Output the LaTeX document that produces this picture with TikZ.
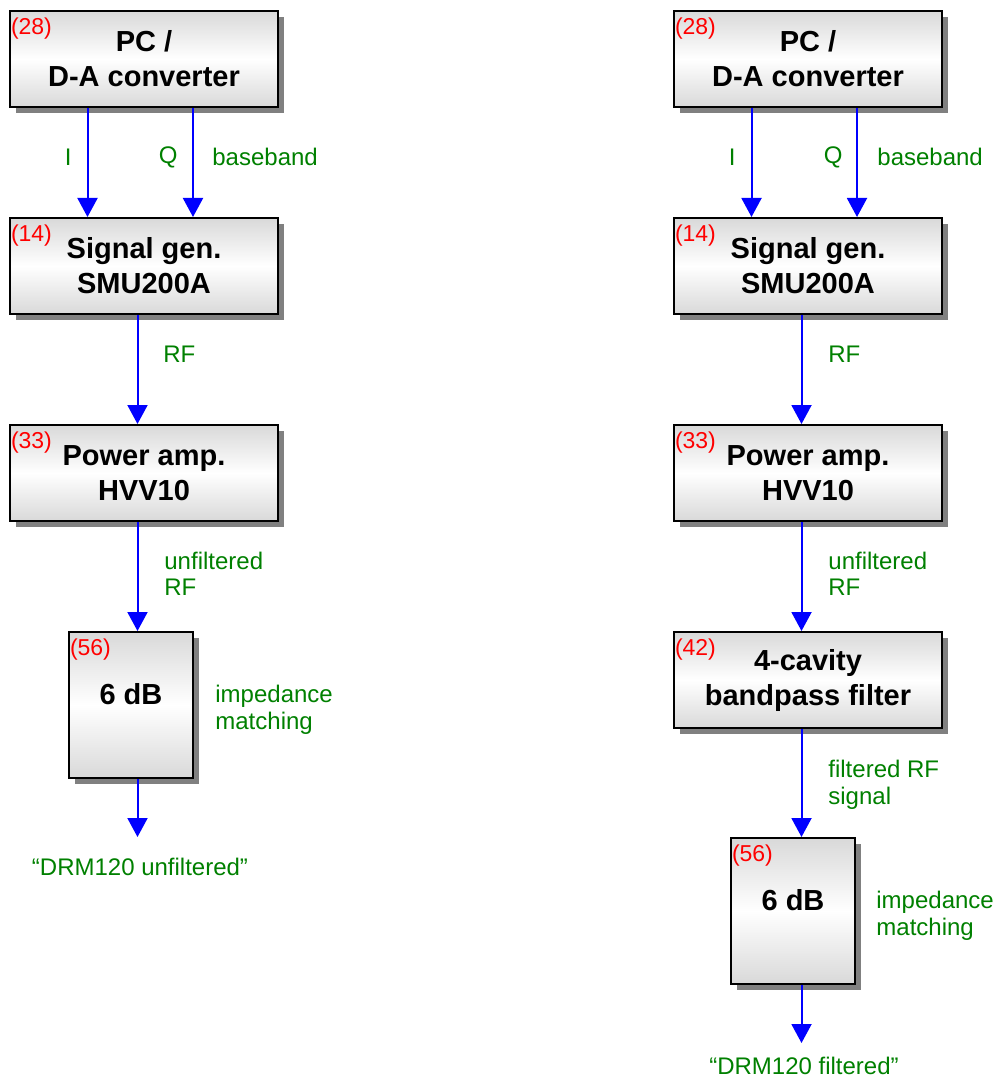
\documentclass[tikz,border=0pt]{standalone}
\usepackage{fontspec}
\setmainfont{Liberation Sans}
\usetikzlibrary{positioning, arrows.meta,
shadows, % for the grey shadow under the boxes
calc
}

\begin{document}
\begin{tikzpicture}[x=0.5pt, y=0.5pt,%
  box/.style={draw=black, line width=1pt, rectangle, align=center,
    minimum width=134pt, minimum height=48pt, inner sep=0pt,
    top color=black!15, bottom color=black!15, middle color=white,
    drop shadow={shadow xshift=3pt, shadow yshift=-3pt, fill=black!50, opacity=1},
    font=\fontsize{14.5}{17.5}\selectfont\bfseries},
  att/.style={box, minimum width=62pt, minimum height=73pt, text height=10.4pt, text depth=11.4pt},
  num/.style={text=red, font=\fontsize{11.5}{13}\selectfont, anchor=north west, inner sep=0pt, xshift=0.8pt, yshift=-3.8pt},
  sig/.style={draw=blue, line width=1pt, -{Triangle[width=10pt, length=9.5pt]}},
  lbl/.style={text=green!50!black, font=\fontsize{12}{13.3}\selectfont, align=left, inner sep=0pt}
  ]
  \useasboundingbox (0,0) rectangle (997,-1079);

  % left chain: unfiltered
  \node[box, label={[num]north west:(28)}] (pcL) at (144,-59) {PC /\\D-A converter};
  \node[box, label={[num]north west:(14)}, below=54.5pt of pcL] (sgL) {Signal gen.\\SMU200A};
  \node[box, label={[num]north west:(33)}, below=54.5pt of sgL] (paL) {Power amp.\\HVV10};
  \node[att, label={[num]north west:(56)}] (attL) at (131,-705) {6 dB};
  \coordinate (endL) at (138,-837);
  \node[lbl] (drmL) at (140,-867) {“DRM120 unfiltered”};

  \draw[sig] ($(pcL.south west)+(78.5,0)$) coordinate (iL) -- (iL |- sgL.north);
  \draw[sig] ($(pcL.south west)+(184,0)$) coordinate (qL) -- (qL |- sgL.north);
  \draw[sig] ($(sgL.south west)+(128.5,0)$) coordinate (rL) -- (rL |- paL.north);
  \draw[sig] (rL |- paL.south) -- (rL |- attL.north);
  \draw[sig] (rL |- attL.south) -- (rL |- endL);

  \node[lbl, anchor=east] (iLlbl) at (72,-157) {I};
  \node[lbl, anchor=east] (qLlbl) at (178,-157) {Q};
  \node[lbl, anchor=west] (bbL) at (212,-157) {baseband};
  \node[lbl, anchor=west] (rfL) at (163,-354) {RF};
  \node[lbl, anchor=west] (ufL) at (164,-574) {unfiltered\\RF};
  \node[lbl, anchor=west] (imL) at (215,-710) {impedance\\matching};

  % right chain: filtered
  \node[box, label={[num]north west:(28)}] (pcR) at (808,-59) {PC /\\D-A converter};
  \node[box, label={[num]north west:(14)}, below=54.5pt of pcR] (sgR) {Signal gen.\\SMU200A};
  \node[box, label={[num]north west:(33)}, below=54.5pt of sgR] (paR) {Power amp.\\HVV10};
  \node[box, label={[num]north west:(42)}, below=54.5pt of paR] (bpR) {4-cavity\\bandpass filter};
  \node[att, label={[num]north west:(56)}] (attR) at (793,-911) {6 dB};
  \coordinate (endR) at (802,-1043);
  \node[lbl] (drmR) at (804,-1066) {“DRM120 filtered”};

  \draw[sig] ($(pcR.south west)+(78.5,0)$) coordinate (iR) -- (iR |- sgR.north);
  \draw[sig] ($(pcR.south west)+(184,0)$) coordinate (qR) -- (qR |- sgR.north);
  \draw[sig] ($(sgR.south west)+(128.5,0)$) coordinate (rR) -- (rR |- paR.north);
  \draw[sig] (rR |- paR.south) -- (rR |- bpR.north);
  \draw[sig] (rR |- bpR.south) -- (rR |- attR.north);
  \draw[sig] (rR |- attR.south) -- (rR |- endR);

  \node[lbl, anchor=east] (iRlbl) at (736,-157) {I};
  \node[lbl, anchor=east] (qRlbl) at (843,-157) {Q};
  \node[lbl, anchor=west] (bbR) at (877,-157) {baseband};
  \node[lbl, anchor=west] (rfR) at (828,-354) {RF};
  \node[lbl, anchor=west] (ufR) at (828,-574) {unfiltered\\RF};
  \node[lbl, anchor=west] (frR) at (828,-785) {filtered RF\\signal};
  \node[lbl, anchor=west] (imR) at (876,-916) {impedance\\matching};
\end{tikzpicture}
\end{document}
